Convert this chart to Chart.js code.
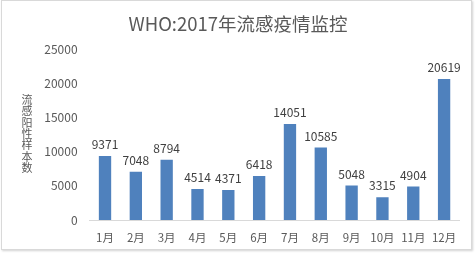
<!DOCTYPE html>
<html>
<head>
<meta charset="utf-8">
<script src="https://cdn.jsdelivr.net/npm/chart.js@4/dist/chart.umd.min.js"></script>
<style>
  html, body { margin: 0; padding: 0; background: #fff; }
  #wrap { position: relative; width: 476px; height: 253px; }
  #frame { position: absolute; left: 1px; top: 0px; width: 471px; height: 250px; border: 1px solid #d9d9d9; box-shadow: 1px 1px 2px rgba(0,0,0,0.18); box-sizing: border-box; pointer-events: none; }
  canvas { position: absolute; left: 0; top: 0; }
</style>
</head>
<body>
<div id="wrap">
  <canvas id="c" width="476" height="253"></canvas>
  <div id="frame"></div>
</div>
<script>
const titleText = 'WHO:2017年流感疫情监控';
const yAxisTitle = '流感阳性样本数';
const categories = ['1月','2月','3月','4月','5月','6月','7月','8月','9月','10月','11月','12月'];
const positiveSamples = [9371, 7048, 8794, 4514, 4371, 6418, 14051, 10585, 5048, 3315, 4904, 20619];
const yTicks = [0, 5000, 10000, 15000, 20000, 25000];

const FONT = '"Noto Sans CJK SC", "Noto Sans", sans-serif';
const TXT = '#595959';

const decorPlugin = {
  id: 'decor',
  afterDatasetsDraw(chart) {
    const ctx = chart.ctx;
    const meta = chart.getDatasetMeta(0);
    ctx.save();
    ctx.font = '12px ' + FONT;
    ctx.fillStyle = '#404040';
    ctx.textAlign = 'center';
    ctx.textBaseline = 'middle';
    meta.data.forEach((bar, i) => {
      ctx.fillText(String(positiveSamples[i]), bar.x, bar.y - 11.5);
    });
    ctx.restore();
  },
  afterDraw(chart) {
    const ctx = chart.ctx;
    ctx.save();
    ctx.font = '18.5px ' + FONT;
    ctx.fillStyle = TXT;
    ctx.textAlign = 'center';
    ctx.textBaseline = 'middle';
    ctx.fillText(titleText, 238, 24);
    ctx.font = '11px ' + FONT;
    const chars = Array.from(yAxisTitle);
    const step = 11.3;
    const startY = 100;
    chars.forEach((ch, i) => {
      ctx.fillText(ch, 27, startY + i * step);
    });
    ctx.restore();
  }
};

new Chart(document.getElementById('c'), {
  type: 'bar',
  data: {
    labels: categories,
    datasets: [{
      data: positiveSamples,
      backgroundColor: '#4f81bd',
      borderWidth: 0,
      categoryPercentage: 1,
      barPercentage: 0.4
    }]
  },
  options: {
    responsive: false,
    animation: false,
    devicePixelRatio: 1,
    layout: { padding: { top: 49, right: 16.5, bottom: 0, left: 0 } },
    plugins: { legend: { display: false }, title: { display: false }, tooltip: { enabled: false } },
    scales: {
      x: {
        grid: { display: false, drawTicks: false },
        border: { display: true, color: '#d9d9d9', width: 1 },
        ticks: { color: TXT, font: { size: 11.5, family: FONT }, padding: 10.5, maxRotation: 0, autoSkip: false },
        afterFit(scale) { scale.height = 33; }
      },
      y: {
        min: 0,
        max: 25000,
        afterBuildTicks(scale) { scale.ticks = yTicks.map(v => ({ value: v })); },
        grid: { display: false, drawTicks: false },
        border: { display: false },
        ticks: { color: TXT, font: { size: 12, family: FONT }, padding: 12, callback: (v) => String(v) },
        afterFit(scale) { scale.width = 89.6; }
      }
    }
  },
  plugins: [decorPlugin]
});
</script>
</body>
</html>
